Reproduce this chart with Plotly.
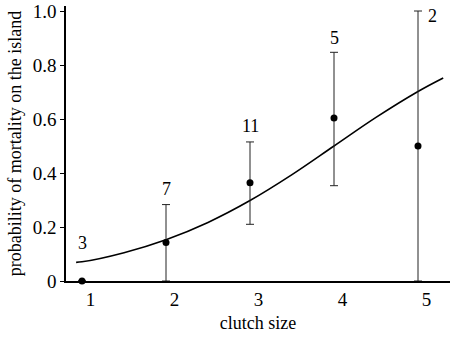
import plotly.graph_objects as go

# observed data
clutch = [1, 2, 3, 4, 5]
prob = [0.0, 0.143, 0.364, 0.604, 0.50]
upper = [0.0, 0.283, 0.515, 0.847, 1.0]
lower = [0.0, 0.0, 0.21, 0.353, 0.0]
n_labels = ["3", "7", "11", "5", "2"]
label_x = [1.0, 2.0, 3.0, 4.0, 5.17]
label_y = [0.141, 0.341, 0.574, 0.90, 0.98]

# fitted curve
curve_x = [0.93, 1.0, 1.5, 2.0, 2.5, 3.0, 3.5, 4.0, 4.5, 5.0, 5.3]
curve_y = [0.069, 0.071, 0.105, 0.153, 0.217, 0.298, 0.394, 0.50, 0.606, 0.702, 0.752]

x_ticks = ["1", "2", "3", "4", "5"]
y_tickvals = [0, 0.2, 0.4, 0.6, 0.8, 1.0]
y_ticktext = ["0", "0.2", "0.4", "0.6", "0.8", "1.0"]

FONT = "Liberation Serif"

fig = go.Figure()
fig.add_trace(go.Scatter(
    x=curve_x, y=curve_y, mode="lines",
    line=dict(color="black", width=1.6, shape="spline"),
    hoverinfo="skip", showlegend=False,
))
fig.add_trace(go.Scatter(
    x=clutch, y=prob, mode="markers",
    marker=dict(color="black", size=7),
    error_y=dict(
        type="data", symmetric=False,
        array=[u - p for u, p in zip(upper, prob)],
        arrayminus=[p - l for p, l in zip(prob, lower)],
        color="#222222", thickness=1, width=4,
    ),
    cliponaxis=False, showlegend=False,
))

for t, xx, yy in zip(n_labels, label_x, label_y):
    fig.add_annotation(x=xx, y=yy, text=t, showarrow=False,
                       font=dict(family=FONT, size=18, color="black"))

fig.update_layout(
    width=450, height=338,
    margin=dict(l=66, r=0, t=6, b=57),
    paper_bgcolor="white", plot_bgcolor="white",
    font=dict(family=FONT, size=18, color="black"),
)
fig.update_xaxes(
    range=[0.8095, 5.381],
    tickvals=[c + 0.1 for c in clutch], ticktext=x_ticks,
    showline=True, linecolor="black", linewidth=1.5,
    ticks="", showgrid=False, zeroline=False,
    tickfont=dict(family=FONT, size=19, color="black"),
    title=dict(text="clutch size", font=dict(family=FONT, size=18), standoff=8),
)
fig.update_yaxes(
    range=[0, 1.0185],
    tickvals=y_tickvals, ticktext=y_ticktext,
    showline=True, linecolor="black", linewidth=1.5,
    ticks="outside", ticklen=4, tickcolor="black", tickwidth=1,
    showgrid=False, zeroline=False,
    tickfont=dict(family=FONT, size=19, color="black"),
    title=dict(text="probability of mortality on the island",
               font=dict(family=FONT, size=18), standoff=6),
)

fig.write_html("out.html", config={"displayModeBar": False},
               post_script="document.body.style.margin='0';")
